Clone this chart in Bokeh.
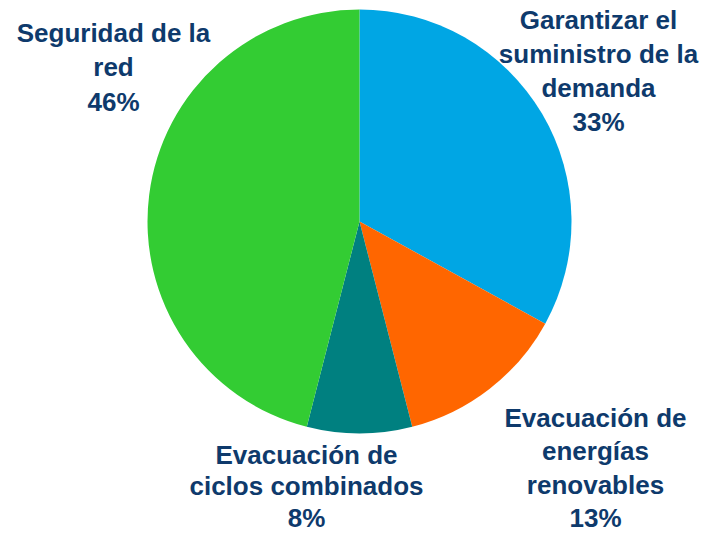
import math
from bokeh.plotting import figure
from bokeh.models import Range1d
from bokeh.core.properties import value
from bokeh.embed import file_html
from bokeh.resources import INLINE

# Data
categories = ["Garantizar el\nsuministro de la\ndemanda", "Evacuación de\nenergías\nrenovables",
              "Evacuación de\nciclos combinados", "Seguridad de la\nred"]
shares = [33, 13, 8, 46]
colors = ["#00A6E4", "#FF6600", "#008080", "#33CC33"]

# Layout (pixel coordinates from top-left, converted to y-up)
W, H = 700, 534
cx, cy, r = 359, H - 221, 212
# (center x, first line middle from top, line height)
label_layout = [(598, 19, 34), (595, 417, 33.5), (306, 454, 31.5), (113, 32, 34.5)]

p = figure(width=W, height=H, output_backend="svg", toolbar_location=None,
           x_range=Range1d(0, W), y_range=Range1d(0, H), min_border=0)
p.axis.visible = False
p.grid.visible = False
p.outline_line_color = None
p.background_fill_color = "white"
p.border_fill_color = "white"

total = sum(shares)
cum = 0.0
starts, ends = [], []
for s in shares:
    a0 = math.pi / 2 - 2 * math.pi * cum / total
    cum += s
    a1 = math.pi / 2 - 2 * math.pi * cum / total
    starts.append(a0)
    ends.append(a1)

p.wedge(x=[cx] * len(shares), y=[cy] * len(shares), radius=r,
        start_angle=starts, end_angle=ends, direction="clock",
        fill_color=colors, line_color=None)

xs, ys, txt = [], [], []
for cat, s, (ax, my, lh) in zip(categories, shares, label_layout):
    lines = cat.split("\n") + [f"{s}%"]
    for i, ln in enumerate(lines):
        xs.append(ax)
        ys.append(H - (my + i * lh))
        txt.append(ln)

p.text(x=xs, y=ys, text=txt, text_font=value("Liberation Sans"), text_font_style="bold",
       text_font_size="26px", text_color="#0E3A6C", text_align="center",
       text_baseline="middle")

open("out.html", "w").write(file_html(p, INLINE))
